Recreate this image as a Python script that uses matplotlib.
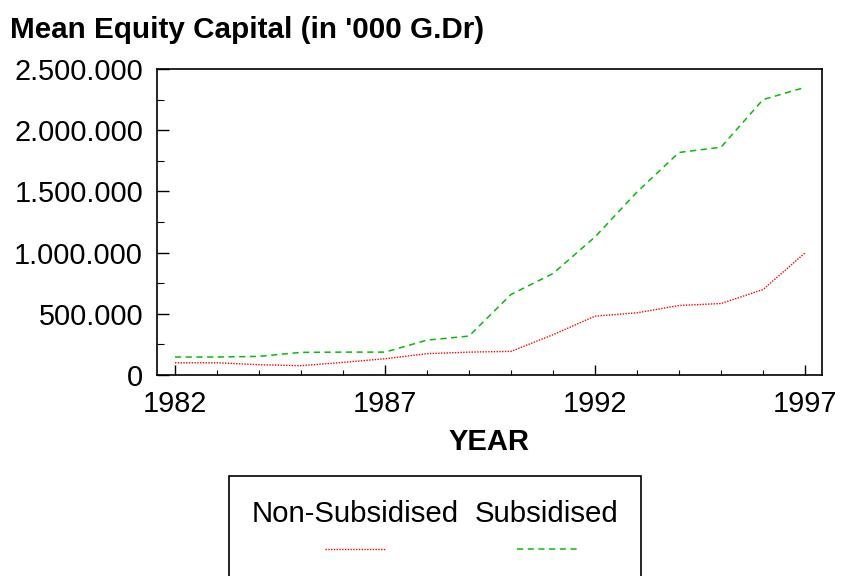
import matplotlib
matplotlib.use("Agg")
import matplotlib.pyplot as plt
from matplotlib.lines import Line2D
from matplotlib.patches import Rectangle
from matplotlib.ticker import MultipleLocator, FuncFormatter

plt.rcParams['font.family'] = ['Liberation Sans', 'DejaVu Sans']

# Data (values in '000 G.Dr)
years = list(range(1982, 1998))
non_subsidised = [100000, 100000, 84000, 76000, 103000, 133000, 174000, 187000,
                  193000, 329000, 481000, 508000, 568000, 584000, 698000, 997000]
subsidised = [147000, 147000, 152000, 185000, 187000, 187000, 285000, 318000,
              658000, 829000, 1128000, 1495000, 1818000, 1861000, 2250000, 2350000]
year_ticks = [1982, 1987, 1992, 1997]

W, H = 841, 576
fig = plt.figure(figsize=(W / 100, H / 100), dpi=100)
ax = fig.add_axes([157 / W, 1 - 375 / H, (822 - 157) / W, (375 - 69) / H])

ax.plot(years, non_subsidised, color='#ff0000', lw=1.0, linestyle=(0, (1, 1)))
ax.plot(years, subsidised, color='#00c000', lw=1.1, linestyle=(0, (4, 3)))

ax.set_xlim(1982 - 18 / 42, 1997 + 17 / 42)
ax.set_ylim(0, 2500000)

# ticks
ax.set_xticks(year_ticks)
ax.set_xticks(years, minor=True)
ax.yaxis.set_major_locator(MultipleLocator(500000))
ax.yaxis.set_minor_locator(MultipleLocator(250000))
ax.yaxis.set_major_formatter(FuncFormatter(lambda v, p: f"{int(v):,}".replace(",", ".")))
ax.tick_params(axis='both', which='both', direction='in', labelsize=20.8)
ax.tick_params(axis='x', which='major', length=7, width=1, pad=11)
ax.tick_params(axis='x', which='minor', length=3.5, width=0.8)
ax.tick_params(axis='y', which='major', length=8.5, width=1, pad=10)
ax.tick_params(axis='y', which='minor', length=5, width=0.8)
for s in ax.spines.values():
    s.set_linewidth(1.2)

ax.set_xlabel("YEAR", fontsize=21, fontweight='bold', labelpad=7)
fig.text(10 / W, 1 - 30 / H, "Mean Equity Capital (in '000 G.Dr)", fontsize=21.3,
         fontweight='bold', ha='left', va='center')

# legend box: labels on top, line samples underneath
fig.patches.append(Rectangle((229 / W, 1 - 600 / H), (641 - 229) / W, (600 - 476) / H,
                             transform=fig.transFigure, fill=False, lw=1.2,
                             edgecolor='black'))
fig.text(355 / W, 1 - 514 / H, "Non-Subsidised", fontsize=21.2, ha='center', va='center')
fig.text(547 / W, 1 - 514 / H, "Subsidised", fontsize=21.2, ha='center', va='center')
fig.add_artist(Line2D([325 / W, 385 / W], [1 - 549 / H, 1 - 549 / H],
                      transform=fig.transFigure, color='#ff0000', lw=1.0,
                      linestyle=(0, (1, 1))))
fig.add_artist(Line2D([517 / W, 578 / W], [1 - 549 / H, 1 - 549 / H],
                      transform=fig.transFigure, color='#00c000', lw=1.1,
                      linestyle=(0, (4, 3))))

fig.savefig("out.png", dpi=100)
